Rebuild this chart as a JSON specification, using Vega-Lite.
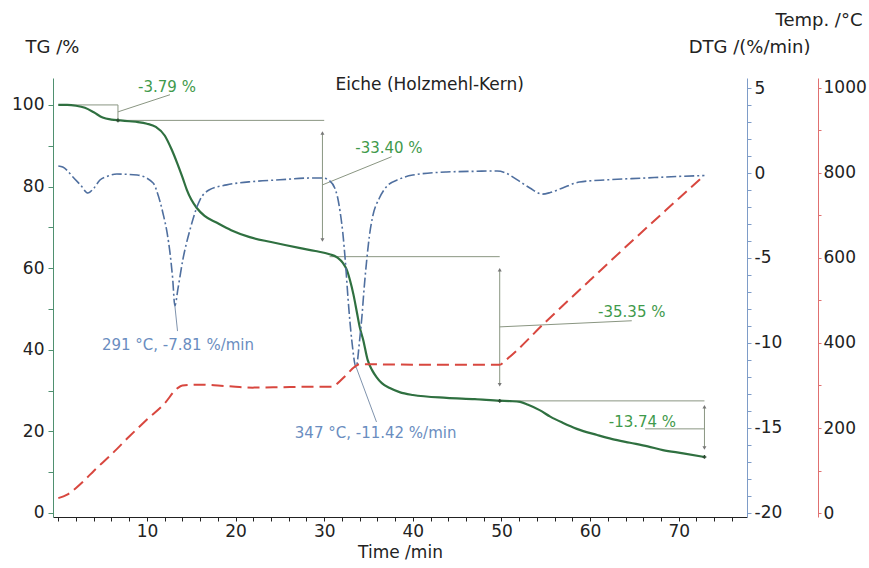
{
  "$schema": "https://vega.github.io/schema/vega-lite/v6.json",
  "width": 694,
  "height": 439,
  "autosize": {"type": "none"},
  "padding": {"left": 53, "top": 78, "right": 122, "bottom": 51},
  "background": "white",
  "config": {
    "view": {"stroke": null},
    "font": "DejaVu Sans",
    "axis": {"grid": false, "labelFont": "DejaVu Sans", "titleFont": "DejaVu Sans", "labelFontSize": 17, "labelColor": "#222", "titleColor": "#222", "titleFontWeight": "normal", "labelOverlap": false, "labelFlush": false}
  },
  "datasets": {
    "tg": [
      {"t":0,"v":100},{"t":1,"v":100},{"t":2,"v":99.8},{"t":3,"v":99.3},{"t":4,"v":98.2},{"t":5,"v":96.9},{"t":6,"v":96.4},{"t":7,"v":96.2},{"t":8,"v":96.0},{"t":9,"v":95.8},{"t":10,"v":95.4},{"t":11,"v":94.6},{"t":12,"v":92.5},{"t":12.8,"v":89},{"t":13.4,"v":85.8},{"t":14,"v":82.3},{"t":14.5,"v":79.2},{"t":15,"v":76.8},{"t":15.6,"v":74.8},{"t":16.5,"v":72.8},{"t":17.9,"v":71.1},{"t":19.5,"v":69.3},{"t":21.6,"v":67.6},{"t":24,"v":66.4},{"t":27.3,"v":64.9},{"t":29,"v":64.2},{"t":30.6,"v":63.4},{"t":31.5,"v":62.6},{"t":32.1,"v":61.3},{"t":32.5,"v":59.8},{"t":32.9,"v":57.1},{"t":33.3,"v":53.5},{"t":33.7,"v":49.0},{"t":34.0,"v":45.6},{"t":34.4,"v":42.4},{"t":34.9,"v":37.5},{"t":35.4,"v":35},{"t":35.9,"v":33.3},{"t":36.5,"v":31.8},{"t":37.4,"v":30.6},{"t":38.5,"v":29.6},{"t":40,"v":28.9},{"t":43.8,"v":28.2},{"t":47,"v":27.9},{"t":49.8,"v":27.5},{"t":51,"v":27.4},{"t":52.1,"v":27.2},{"t":53,"v":26.5},{"t":54.3,"v":25.2},{"t":55.5,"v":23.6},{"t":56.9,"v":22.1},{"t":58.5,"v":20.6},{"t":60.8,"v":19.1},{"t":62.5,"v":18.1},{"t":64.5,"v":17.2},{"t":66.5,"v":16.3},{"t":68.2,"v":15.4},{"t":70.5,"v":14.6},{"t":72.9,"v":13.7}
    ],
    "dtg": [
      {"t":0,"v":0.41},{"t":0.5,"v":0.35},{"t":1,"v":0.15},{"t":1.65,"v":-0.24},{"t":2.5,"v":-0.7},{"t":3.35,"v":-1.18},{"t":4,"v":-0.9},{"t":4.7,"v":-0.41},{"t":5.5,"v":-0.2},{"t":6.6,"v":-0.06},{"t":8.9,"v":-0.12},{"t":10.7,"v":-0.59},{"t":11.2,"v":-1.2},{"t":11.8,"v":-2.35},{"t":12.3,"v":-3.6},{"t":12.6,"v":-4.7},{"t":12.9,"v":-6.2},{"t":13.15,"v":-7.81},{"t":13.5,"v":-6.8},{"t":14.05,"v":-5.1},{"t":14.85,"v":-3.35},{"t":15.97,"v":-1.59},{"t":17,"v":-1.0},{"t":19,"v":-0.7},{"t":22,"v":-0.5},{"t":25,"v":-0.4},{"t":28,"v":-0.3},{"t":29.85,"v":-0.29},{"t":30.6,"v":-0.45},{"t":31.2,"v":-0.9},{"t":31.5,"v":-1.41},{"t":31.8,"v":-2.3},{"t":32.1,"v":-3.53},{"t":32.4,"v":-5.3},{"t":32.7,"v":-7.47},{"t":33.1,"v":-9.8},{"t":33.6,"v":-11.42},{"t":34.0,"v":-9.8},{"t":34.25,"v":-8.47},{"t":34.5,"v":-6.8},{"t":34.8,"v":-5.1},{"t":35.1,"v":-3.7},{"t":35.45,"v":-2.6},{"t":36.2,"v":-1.5},{"t":37.0,"v":-0.82},{"t":38.5,"v":-0.35},{"t":40,"v":-0.12},{"t":43.8,"v":0.06},{"t":47,"v":0.1},{"t":49.5,"v":0.12},{"t":50.5,"v":0.0},{"t":51.3,"v":-0.24},{"t":52.2,"v":-0.55},{"t":53.2,"v":-0.88},{"t":54.6,"v":-1.24},{"t":55.5,"v":-1.15},{"t":56.9,"v":-0.88},{"t":58.8,"v":-0.53},{"t":62,"v":-0.4},{"t":66,"v":-0.3},{"t":70,"v":-0.2},{"t":72.9,"v":-0.15}
    ],
    "temp": [
      {"t":0,"v":35},{"t":1,"v":43},{"t":2,"v":59},{"t":3,"v":78},{"t":4,"v":99},{"t":6,"v":138},{"t":8,"v":180},{"t":10,"v":220},{"t":12,"v":258},{"t":13.4,"v":293},{"t":14,"v":300},{"t":16,"v":302},{"t":18,"v":300},{"t":20,"v":297},{"t":22,"v":295},{"t":25,"v":296},{"t":28,"v":297},{"t":31,"v":297},{"t":31.5,"v":305},{"t":32.5,"v":325},{"t":33.5,"v":345},{"t":34,"v":350},{"t":40,"v":349},{"t":45,"v":349},{"t":49.8,"v":349},{"t":50.5,"v":360},{"t":55,"v":450},{"t":60,"v":548},{"t":65,"v":645},{"t":70,"v":740},{"t":72.9,"v":795}
    ],
    "tgseg": [
      {"t":0,"v":100,"t2":6.73,"v2":100},
      {"t":6.73,"v":100,"t2":6.73,"v2":96.21},
      {"t":6.73,"v":96.21,"t2":30.0,"v2":96.21},
      {"t":6.73,"v":98.3,"t2":12.6,"v2":102.5},
      {"t":29.8,"v":93.1,"t2":29.8,"v2":66.9},
      {"t":30.6,"v":62.81,"t2":49.8,"v2":62.81},
      {"t":29.8,"v":80.4,"t2":37.6,"v2":87.3},
      {"t":49.8,"v":59.6,"t2":49.8,"v2":31.4},
      {"t":49.8,"v":45.6,"t2":64.7,"v2":47.1},
      {"t":49.8,"v":27.46,"t2":72.9,"v2":27.46},
      {"t":72.9,"v":26.0,"t2":72.9,"v2":15.9},
      {"t":66.2,"v":20.6,"t2":72.9,"v2":20.6}
    ],
    "tgarrows": [
      {"t":29.8,"v":93.1,"dir":"up"},{"t":29.8,"v":66.9,"dir":"down"},
      {"t":49.8,"v":59.6,"dir":"up"},{"t":49.8,"v":31.4,"dir":"down"},
      {"t":72.9,"v":26.0,"dir":"up"},{"t":72.9,"v":15.9,"dir":"down"}
    ],
    "tgmarks": [{"t":6.73,"v":96.21},{"t":49.8,"v":27.46},{"t":72.9,"v":13.72}],
    "tglabels": [
      {"t":12.26,"v":104.4,"text":"-3.79 %"},
      {"t":37.3,"v":89.5,"text":"-33.40 %"},
      {"t":64.7,"v":49.3,"text":"-35.35 %"},
      {"t":65.9,"v":22.3,"text":"-13.74 %"}
    ],
    "title": [{"t":41.9,"v":104.9,"text":"Eiche (Holzmehl-Kern)"}],
    "dtgseg": [
      {"t":13.15,"v":-7.81,"t2":13.45,"v2":-9.3},
      {"t":33.6,"v":-11.42,"t2":35.9,"v2":-14.65}
    ],
    "dtglabels": [
      {"t":13.5,"v":-10.1,"text":"291 °C, -7.81 %/min"},
      {"t":35.8,"v":-15.3,"text":"347 °C, -11.42 %/min"}
    ]
  },
  "encoding": {
    "x": {"field": "t", "type": "quantitative", "scale": {"domain": [-0.6, 77.7], "nice": false, "zero": false},
      "axis": {"values": [0,2,4,6,8,10,12,14,16,18,20,22,24,26,28,30,32,34,36,38,40,42,44,46,48,50,52,54,56,58,60,62,64,66,68,70,72,74,76],
        "labelExpr": "datum.value % 10 === 0 && datum.value > 0 ? datum.label : ''",
        "title": "Time /min", "domainColor": "#222", "tickColor": "#222", "tickSize": 4, "labelPadding": 2, "titleFontSize": 17, "titlePadding": 5}}
  },
  "layer": [
    {
      "encoding": {
        "y": {"field": "v", "type": "quantitative", "scale": {"domain": [-1, 106.6], "nice": false, "zero": false},
          "axis": {"orient": "left", "values": [0,10,20,30,40,50,60,70,80,90,100],
            "labelExpr": "datum.value % 20 === 0 ? datum.label : ''",
            "domainColor": "#4f9070", "tickColor": "#4f9070", "tickSize": 5, "labelPadding": 4,
            "title": "TG /%", "titleAngle": 0, "titleX": -28, "titleY": -31, "titleAlign": "left", "titleBaseline": "middle", "titleFontSize": 18}}
      },
      "layer": [
        {
          "data": {"name": "tgseg"},
          "mark": {"type": "rule", "color": "#8a9682", "strokeWidth": 1},
          "encoding": {"x2": {"field": "t2"}, "y2": {"field": "v2"}}
        },
        {
          "data": {"name": "tg"},
          "mark": {"type": "line", "color": "#2f7040", "strokeWidth": 2.2, "interpolate": "monotone"},
          "encoding": {}
        },
        {
          "data": {"name": "tgarrows"},
          "mark": {"type": "point", "filled": true, "color": "#777", "size": 16, "opacity": 1},
          "encoding": {
            "shape": {"field": "dir", "type": "nominal", "scale": {"domain": ["up", "down"], "range": ["triangle-up", "triangle-down"]}, "legend": null}
          }
        },
        {
          "data": {"name": "tgmarks"},
          "mark": {"type": "point", "shape": "cross", "filled": true, "color": "#2a4a30", "size": 14, "opacity": 1},
          "encoding": {}
        },
        {
          "data": {"name": "tglabels"},
          "mark": {"type": "text", "color": "#3f9a4c", "fontSize": 15, "align": "center", "baseline": "middle", "font": "DejaVu Sans"},
          "encoding": {"text": {"field": "text"}}
        },
        {
          "data": {"name": "title"},
          "mark": {"type": "text", "color": "#222", "fontSize": 17, "align": "center", "baseline": "middle", "font": "DejaVu Sans"},
          "encoding": {"text": {"field": "text"}}
        }
      ]
    },
    {
      "encoding": {
        "y": {"field": "v", "type": "quantitative", "scale": {"domain": [-20.24, 5.59], "nice": false, "zero": false},
          "axis": {"orient": "right", "values": [-20,-19,-18,-17,-16,-15,-14,-13,-12,-11,-10,-9,-8,-7,-6,-5,-4,-3,-2,-1,0,1,2,3,4,5],
            "labelExpr": "datum.value % 5 === 0 ? toString(datum.value) : ''",
            "domainColor": "#7e9cc8", "tickColor": "#7e9cc8", "tickSize": 4, "labelPadding": 3,
            "title": "DTG /(%/min)", "titleAngle": 0, "titleX": 63, "titleY": -31, "titleAlign": "right", "titleBaseline": "middle", "titleFontSize": 18}}
      },
      "layer": [
        {
          "data": {"name": "dtg"},
          "mark": {"type": "line", "color": "#4f6f9f", "strokeWidth": 1.6, "strokeDash": [10, 3, 2, 3], "interpolate": "monotone"},
          "encoding": {}
        },
        {
          "data": {"name": "dtgseg"},
          "mark": {"type": "rule", "color": "#7f93ad", "strokeWidth": 1},
          "encoding": {"x2": {"field": "t2"}, "y2": {"field": "v2"}}
        },
        {
          "data": {"name": "dtglabels"},
          "mark": {"type": "text", "color": "#6a8dc0", "fontSize": 15, "align": "center", "baseline": "middle", "font": "DejaVu Sans"},
          "encoding": {"text": {"field": "text"}}
        }
      ]
    },
    {
      "data": {"name": "temp"},
      "mark": {"type": "line", "color": "#d8473f", "strokeWidth": 2, "strokeDash": [12, 6], "interpolate": "monotone"},
      "encoding": {
        "y": {"field": "v", "type": "quantitative", "scale": {"domain": [-9.4, 1023.5], "nice": false, "zero": false},
          "axis": {"orient": "right", "offset": 71, "values": [0,100,200,300,400,500,600,700,800,900,1000],
            "labelExpr": "datum.value % 200 === 0 ? toString(datum.value) : ''",
            "domainColor": "#e07070", "tickColor": "#e07070", "tickSize": 3, "labelPadding": 2,
            "title": "Temp. /°C", "titleAngle": 0, "titleX": 44, "titleY": -58, "titleAlign": "right", "titleBaseline": "middle", "titleFontSize": 18}}
      }
    }
  ],
  "resolve": {"scale": {"y": "independent"}}
}
